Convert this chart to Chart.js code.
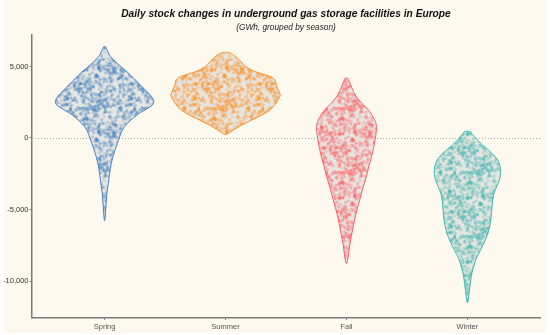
<!DOCTYPE html>
<html>
<head>
<meta charset="utf-8">
<script src="https://cdn.jsdelivr.net/npm/chart.js@4"></script>
<style>
	html, body { margin: 0; padding: 0; background: #ffffff; }
	canvas { display: block; }
</style>
</head>
<body>
<canvas id="violins" width="550" height="335"></canvas>
<script>
const seasons = ['Spring', 'Summer', 'Fall', 'Winter']
const yTicks = [-10000, -5000, 0, 5000]
const titleText = 'Daily stock changes in underground gas storage facilities in Europe'
const subtitleText = '(GWh, grouped by season)'

// violin outlines: level (GWh) and half width (category units)
const springLevels = [6413, 6133, 5783, 5434, 4965, 4503, 4035, 3566, 3105, 2755, 2517, 2287, 2056, 1706, 1238, 888, 538, 70, -392, -860, -1329, -1790, -2490, -3189, -3888, -4825, -5755]
const springWidths = [0.004, 0.022, 0.041, 0.077, 0.138, 0.201, 0.256, 0.312, 0.366, 0.399, 0.407, 0.394, 0.353, 0.283, 0.215, 0.174, 0.146, 0.124, 0.105, 0.085, 0.069, 0.055, 0.041, 0.031, 0.019, 0.011, 0.002]

const summerLevels = [6014, 5902, 5664, 5315, 4965, 4664, 4433, 4266, 4035, 3685, 3336, 2986, 2636, 2287, 1937, 1587, 1238, 888, 608, 378, 238]
const summerWidths = [0.008, 0.047, 0.088, 0.13, 0.171, 0.24, 0.322, 0.378, 0.411, 0.419, 0.438, 0.452, 0.432, 0.405, 0.364, 0.295, 0.212, 0.13, 0.074, 0.033, 0.004]

const fallLevels = [4224, 3916, 3455, 2986, 2517, 2056, 1587, 1238, 888, 538, 70, -629, -1329, -2028, -2727, -3427, -4126, -4825, -5525, -6224, -6923, -7622, -8322, -8741]
const fallWidths = [0.008, 0.025, 0.047, 0.074, 0.116, 0.171, 0.212, 0.234, 0.248, 0.248, 0.24, 0.226, 0.207, 0.184, 0.163, 0.138, 0.116, 0.093, 0.072, 0.055, 0.039, 0.025, 0.014, 0.004]

const winterLevels = [480, 440, 300, 189, -161, -510, -860, -1210, -1559, -2028, -2490, -2958, -3427, -3888, -4357, -4937, -5525, -6105, -6685, -7273, -7853, -8434, -9021, -9602, -10301, -11000, -11511]
const winterWidths = [0.004, 0.025, 0.037, 0.05, 0.085, 0.126, 0.176, 0.219, 0.252, 0.271, 0.274, 0.263, 0.24, 0.219, 0.209, 0.202, 0.196, 0.186, 0.169, 0.14, 0.107, 0.072, 0.05, 0.033, 0.022, 0.011, 0.002]

const colours = ['#3f7fbf', '#ff8c1f', '#ff5f66', '#3cb5b0']

// speckled texture standing in for the jittered daily points (style only)
const hash = (n) => {
	const s = Math.sin(n * 127.1 + 311.7) * 43758.5453
	return s - Math.floor(s)
}
const speckle = (colour) => {
	const size = 64
	const c = document.createElement('canvas')
	c.width = size
	c.height = size
	const g = c.getContext('2d')
	g.fillStyle = '#e6e5e0'
	g.fillRect(0, 0, size, size)
	g.fillStyle = colour
	for (let i = 0; i < 650; i++) {
		const x = hash(i * 3 + 1) * size
		const y = hash(i * 3 + 2) * size
		g.globalAlpha = 0.12 + hash(i * 3 + 3) * 0.32
		for (const [dx, dy] of [[0, 0], [size, 0], [-size, 0], [0, size], [0, -size]]) {
			g.beginPath()
			g.arc(x + dx, y + dy, 1.6, 0, Math.PI * 2)
			g.fill()
		}
	}
	return g.createPattern(c, 'repeat')
}

// right edge going down, then left edge coming back up
const outline = (centre, levels, widths) => {
	const right = levels.map((v, i) => ({ x: centre + widths[i], y: v }))
	const left = levels.map((v, i) => ({ x: centre - widths[i], y: v })).reverse()
	return right.concat(left)
}

const violins = [
	[springLevels, springWidths],
	[summerLevels, summerWidths],
	[fallLevels, fallWidths],
	[winterLevels, winterWidths],
].map(([levels, widths], i) => ({
	label: seasons[i],
	data: outline(i + 1, levels, widths),
	showLine: true,
	fill: 'shape',
	tension: 0.2,
	pointRadius: 0,
	borderWidth: 1,
	borderColor: colours[i],
	backgroundColor: speckle(colours[i]),
}))

const paper = {
	id: 'paper',
	beforeDraw(chart) {
		const ctx = chart.ctx
		ctx.save()
		ctx.fillStyle = '#fdf9ee'
		ctx.fillRect(4, 0, 542, 333)
		ctx.restore()
	},
	beforeDatasetsDraw(chart) {
		const { ctx, chartArea, scales } = chart
		const y0 = Math.round(scales.y.getPixelForValue(0)) + 0.5
		ctx.save()
		ctx.strokeStyle = '#a8a6a0'
		ctx.lineWidth = 1
		ctx.setLineDash([1, 2])
		ctx.beginPath()
		ctx.moveTo(chartArea.left, y0)
		ctx.lineTo(chartArea.right, y0)
		ctx.stroke()
		ctx.restore()
	},
	afterDraw(chart) {
		// titles centred over the panel, not the whole canvas
		const { ctx, chartArea } = chart
		const mid = (chartArea.left + chartArea.right) / 2
		ctx.save()
		ctx.textAlign = 'center'
		ctx.textBaseline = 'middle'
		ctx.fillStyle = '#111111'
		ctx.font = "italic bold 10.2px 'Liberation Sans', Arial, sans-serif"
		ctx.fillText(titleText, mid, 14.5)
		ctx.fillStyle = '#222222'
		ctx.font = "italic 8.3px 'Liberation Sans', Arial, sans-serif"
		ctx.fillText(subtitleText, mid, 27.5)
		ctx.restore()
	},
}

Chart.defaults.font.family = "'Liberation Sans', Arial, sans-serif"

new Chart(document.getElementById('violins'), {
	type: 'scatter',
	data: { datasets: violins },
	plugins: [paper],
	options: {
		responsive: false,
		animation: false,
		layout: { padding: { left: 4, right: 10, top: 35, bottom: 3.5 } },
		plugins: {
			legend: { display: false },
			tooltip: { enabled: false },
		},
		scales: {
			x: {
				type: 'linear',
				min: 0.4,
				max: 4.6,
				afterBuildTicks: (scale) => {
					scale.ticks = seasons.map((s, i) => ({ value: i + 1 }))
				},
				afterFit: (scale) => {
					scale.height = 14
				},
				ticks: {
					callback: (v) => seasons[v - 1],
					color: '#555555',
					font: { size: 7.5 },
					padding: 2,
					maxRotation: 0,
				},
				grid: { drawOnChartArea: false, tickLength: 2.5, tickColor: '#7a7a7a' },
				border: { color: '#7a7a7a', width: 1.5 },
			},
			y: {
				min: -12550,
				max: 7200,
				afterBuildTicks: (scale) => {
					scale.ticks = yTicks.map((v) => ({ value: v }))
				},
				afterFit: (scale) => {
					scale.width = 28
				},
				ticks: {
					callback: (v) => v.toLocaleString('en-US'),
					color: '#333333',
					font: { size: 7.5 },
					padding: 1,
				},
				grid: { drawOnChartArea: false, tickLength: 2.5, tickColor: '#7a7a7a' },
				border: { color: '#7a7a7a', width: 1.5 },
			},
		},
	},
})
</script>
</body>
</html>
